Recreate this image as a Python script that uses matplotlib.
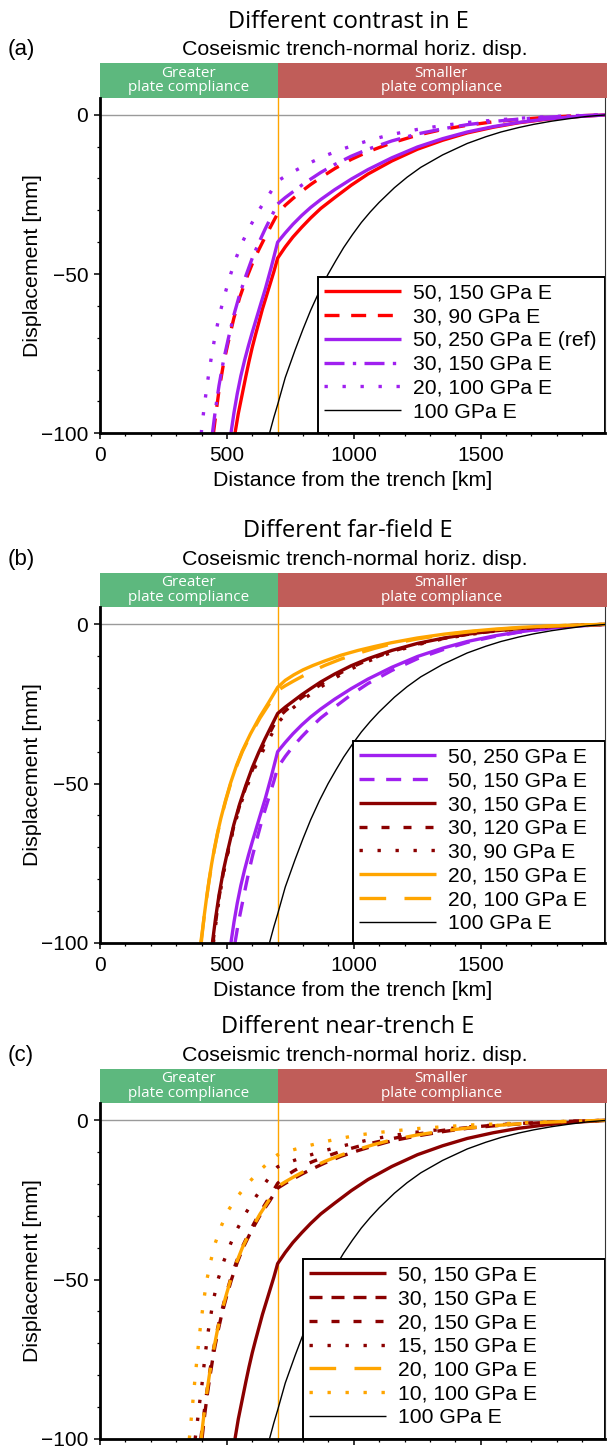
import matplotlib.pyplot as plt
from matplotlib.patches import Rectangle
from matplotlib.ticker import MultipleLocator

plt.rcParams["font.family"] = ["Liberation Sans", "DejaVu Sans"]

W, H = 607, 1449

# distance from the trench [km] and trench-normal displacement [mm] per model
dist_100 = [668, 685, 700, 730, 769, 800, 830, 865, 899, 930, 960, 995, 1030, 1065, 1100, 1160,
            1210, 1264, 1350, 1447, 1520, 1580, 1650, 1709, 1780, 1850, 1920, 2000]
disp_100 = [-100, -95, -91, -82.5, -73.8, -67.3, -61.4, -55.3, -50, -45.7, -41.7, -37.6, -33.8, -30.5, -27.5, -22.9,
            -19.6, -16.5, -12.6, -9.0, -6.9, -5.4, -4.0, -3.0, -2.0, -1.2, -0.5, 0]

dist_50_250 = [516, 528, 541, 555, 570, 585, 600, 630, 652, 675, 700, 730, 760, 795, 830, 870, 925, 990,
               1056, 1150, 1251, 1350, 1447, 1550, 1650, 1750, 1850, 2000]
disp_50_250 = [-100, -93.5, -87.5, -82, -77, -72.5, -68.3, -60.3, -54.5, -47.8, -40, -37.1, -34.4, -31.6, -29.1, -26.6, -23.5, -20.2,
               -17.2, -13.5, -10.1, -7.5, -5.4, -3.7, -2.4, -1.4, -0.7, 0]

dist_50_150 = [532, 545, 561, 575, 587, 600, 613, 640, 665, 685, 700, 730, 760, 795, 830, 870, 925, 990,
               1056, 1150, 1251, 1350, 1447, 1550, 1650, 1750, 1850, 2000]
disp_50_150 = [-100, -93.8, -87.5, -82, -77.5, -73, -69, -61, -54.5, -49.3, -45, -41.5, -38.4, -35.3, -32.4, -29.4, -26, -22.1,
               -18.6, -14.5, -10.8, -8.0, -5.7, -3.9, -2.5, -1.5, -0.7, 0]

dist_30_150 = [443, 455, 469, 487, 505, 527, 550, 575, 600, 625, 650, 680, 700, 730, 760, 795, 830, 870, 925, 990,
               1056, 1150, 1251, 1350, 1447, 1550, 1650, 1750, 1850, 2000]
disp_30_150 = [-100, -92.5, -85, -77, -70.5, -63, -56.5, -50.5, -45, -40.3, -36, -31.2, -28, -26, -24.2, -22.1, -20.2, -18.1, -15.6, -13,
               -10.8, -8.2, -6.0, -4.4, -3.1, -2.1, -1.35, -0.8, -0.4, 0]

dist_30_120 = [445, 457, 469, 487, 505, 527, 550, 575, 600, 625, 650, 680, 700, 730, 760, 795, 830, 870, 925, 990,
               1056, 1150, 1251, 1350, 1447, 1550, 1650, 1750, 1850, 2000]
disp_30_120 = [-100, -92.8, -85.8, -77.5, -71, -63.5, -57, -51, -45.8, -41.1, -37, -32.4, -29.5, -27.2, -25.2, -23, -21, -18.9, -16.2, -13.5,
               -11.2, -8.5, -6.2, -4.5, -3.2, -2.15, -1.4, -0.85, -0.4, 0]

dist_30_90 = [447, 458, 469, 487, 505, 527, 550, 575, 600, 625, 650, 680, 700, 730, 760, 795, 830, 870, 925, 990,
              1056, 1150, 1251, 1350, 1447, 1550, 1650, 1750, 1850, 2000]
disp_30_90 = [-100, -93, -86.5, -78, -71.5, -64, -57.5, -51.8, -46.8, -42.5, -38.5, -34, -31, -28.4, -26.3, -24, -21.9, -19.7, -16.9, -14,
              -11.6, -8.8, -6.4, -4.6, -3.3, -2.2, -1.45, -0.85, -0.4, 0]

dist_20_100 = [399, 405, 411, 420, 430, 440, 450, 463, 476, 495, 515, 538, 561, 593, 630, 665, 700, 730, 763, 800,
               840, 886, 950, 1017, 1080, 1147, 1250, 1356, 1450, 1550, 1650, 1750, 1850, 2000]
disp_20_100 = [-100, -95.5, -91.5, -86, -80.5, -75.5, -71, -65.8, -61.2, -55.5, -50, -44.6, -40, -34.8, -29.5, -25.2, -20.8, -19.3, -17.8, -16.2,
               -14.6, -12.9, -10.9, -9.1, -7.6, -6.2, -4.6, -3.3, -2.4, -1.7, -1.1, -0.65, -0.3, 0]

dist_20_150 = [397, 405, 411, 420, 430, 440, 450, 463, 476, 495, 515, 538, 561, 593, 630, 665, 700, 730, 763, 800,
               840, 886, 950, 1017, 1080, 1147, 1250, 1356, 1450, 1550, 1650, 1750, 1850, 2000]
disp_20_150 = [-100, -95.3, -91.3, -85.8, -80.2, -75.2, -70.7, -65.5, -61, -55.2, -49.7, -44.3, -39.7, -34.4, -29, -24.5, -19.8, -17.6, -15.9, -14.3,
               -12.9, -11.5, -9.7, -8.2, -7.0, -5.8, -4.3, -3.1, -2.25, -1.55, -1.0, -0.6, -0.3, 0]

dist_30_150c = [402, 408, 414, 423, 433, 443, 453, 466, 479, 498, 518, 541, 564, 596, 633, 668, 700, 730, 763, 800,
                840, 886, 950, 1017, 1080, 1147, 1250, 1356, 1450, 1550, 1650, 1750, 1850, 2000]
disp_30_150c = [-100, -95.5, -91.5, -86, -80.5, -75.5, -71, -65.8, -61.2, -55.5, -50, -44.6, -40, -34.8, -29.5, -25.4, -21.3, -19.8, -18.3, -16.7,
                -15.1, -13.4, -11.3, -9.5, -8.0, -6.5, -4.9, -3.5, -2.5, -1.75, -1.15, -0.7, -0.3, 0]

dist_15_150 = [375, 385, 393, 402, 409, 416, 425, 437, 448, 465, 489, 516, 539, 574, 611, 650, 688, 700, 750, 820,
               886, 958, 1056, 1150, 1250, 1400, 1550, 1700, 1850, 2000]
disp_15_150 = [-100, -93.8, -88.4, -82.8, -77.6, -72.6, -67, -61, -56, -50, -44, -38.5, -34.4, -29.2, -24.4, -19.8, -15.6, -14.6, -13, -11.1,
               -9.5, -8.0, -6.2, -4.8, -3.7, -2.4, -1.5, -0.8, -0.35, 0]

dist_10_100 = [352, 358, 364, 370, 377, 384, 391, 400, 409, 420, 437, 453, 479, 505, 545, 590, 640, 689, 700, 755,
               820, 892, 958, 1030, 1100, 1250, 1450, 1700, 1850, 2000]
disp_10_100 = [-100, -95, -90, -84.8, -79, -73.5, -68, -62, -56.5, -50.5, -44, -38.8, -33, -28.3, -23.6, -19.2, -15, -11.4, -10.8, -9.4,
               -8.0, -6.6, -5.5, -4.5, -3.8, -2.6, -1.5, -0.7, -0.3, 0]

BOUNDARY_KM = 700
XMAX = 1990
YTOP = 5.4

RED, PURPLE, DARKRED, ORANGE = "#ff0000", "#a020f0", "#8b0000", "#ffa500"
GREEN_BAR, RED_BAR = "#5db87e", "#c05d59"

DASHED = (0, (4.5, 3.5))
DASHED_C = (0, (3.9, 2.7))
DASHDOT = (0, (6, 2.5, 1, 2.5))
DOTTED = (0, (1, 4.4))
SHORTDASH = (0, (2.4, 4.2))
LONGDASH = (0, (8, 5.5))

panels = [
    dict(letter="(a)", title="Different contrast in E", zero=114.8, box=(318, 277), xlabels=True,
         curves=[("50, 150 GPa E", dist_50_150, disp_50_150, RED, "-"),
                 ("30, 90 GPa E", dist_30_90, disp_30_90, RED, DASHED),
                 ("50, 250 GPa E (ref)", dist_50_250, disp_50_250, PURPLE, "-"),
                 ("30, 150 GPa E", dist_30_150, disp_30_150, PURPLE, DASHDOT),
                 ("20, 100 GPa E", dist_20_100, disp_20_100, PURPLE, DOTTED),
                 ("100 GPa E", dist_100, disp_100, "black", "-")]),
    dict(letter="(b)", title="Different far-field E", zero=624.3, box=(353, 741), xlabels=True,
         curves=[("50, 250 GPa E", dist_50_250, disp_50_250, PURPLE, "-"),
                 ("50, 150 GPa E", dist_50_150, disp_50_150, PURPLE, DASHED),
                 ("30, 150 GPa E", dist_30_150, disp_30_150, DARKRED, "-"),
                 ("30, 120 GPa E", dist_30_120, disp_30_120, DARKRED, SHORTDASH),
                 ("30, 90 GPa E", dist_30_90, disp_30_90, DARKRED, DOTTED),
                 ("20, 150 GPa E", dist_20_150, disp_20_150, ORANGE, "-"),
                 ("20, 100 GPa E", dist_20_100, disp_20_100, ORANGE, LONGDASH),
                 ("100 GPa E", dist_100, disp_100, "black", "-")]),
    dict(letter="(c)", title="Different near-trench E", zero=1120.3, box=(303, 1259), xlabels=False,
         curves=[("50, 150 GPa E", dist_50_150, disp_50_150, DARKRED, "-"),
                 ("30, 150 GPa E", dist_30_150c, disp_30_150c, DARKRED, DASHED_C),
                 ("20, 150 GPa E", dist_20_150, disp_20_150, DARKRED, SHORTDASH),
                 ("15, 150 GPa E", dist_15_150, disp_15_150, DARKRED, DOTTED),
                 ("20, 100 GPa E", dist_20_100, disp_20_100, ORANGE, LONGDASH),
                 ("10, 100 GPa E", dist_10_100, disp_10_100, ORANGE, DOTTED),
                 ("100 GPa E", dist_100, disp_100, "black", "-")]),
]

fig = plt.figure(figsize=(W / 100, H / 100), dpi=100)
px_per_mm = 3.185
ax_left, ax_right = 100, 605

for p in panels:
    top = p["zero"] - YTOP * px_per_mm
    bottom = p["zero"] + 100 * px_per_mm
    hpx = bottom - top
    ax = fig.add_axes([ax_left / W, 1 - bottom / H, (ax_right - ax_left) / W, hpx / H])
    ax.set_xlim(0, XMAX)
    ax.set_ylim(-100, YTOP)

    ax.axhline(0, color="#9a9a9a", lw=1, zorder=1)
    ax.axvline(BOUNDARY_KM, color=ORANGE, lw=1, zorder=1.5)

    for label, x, y, color, ls in p["curves"]:
        lw = 1.0 if color == "black" else 2.4
        ax.plot(x, y, color=color, ls=ls, lw=lw, label=label,
                solid_capstyle="butt", dash_capstyle="butt", zorder=2)

    ax.spines["top"].set_visible(False)
    ax.spines["left"].set_linewidth(2)
    ax.spines["bottom"].set_linewidth(2)
    ax.spines["right"].set_linewidth(0.8)
    ax.spines["right"].set_color("#333333")

    ax.xaxis.set_major_locator(MultipleLocator(500))
    ax.xaxis.set_minor_locator(MultipleLocator(100))
    ax.yaxis.set_major_locator(MultipleLocator(50))
    ax.yaxis.set_minor_locator(MultipleLocator(10))
    ax.tick_params(which="major", direction="out", length=4.5, width=1.1, labelsize=15)
    ax.tick_params(which="minor", direction="out", length=2.5, width=0.9)
    ax.tick_params(axis="x", which="major", pad=5)
    ax.tick_params(axis="y", which="major", pad=4)
    ax.tick_params(right=False, top=False, which="both")

    if p["xlabels"]:
        ax.set_xlabel("Distance from the trench [km]", fontsize=15.4)
        ax.xaxis.set_label_coords(0.5, -38 / hpx)
    else:
        # the bottom panel is cut just below its axis in the reference
        ax.tick_params(axis="x", labelbottom=False)
    ax.set_ylabel("Displacement [mm]", fontsize=15.4)
    ax.yaxis.set_label_coords(-58 / (ax_right - ax_left), 0.5)

    # plate compliance bar above the axes
    bar_h = 34.4 / hpx
    trans = ax.get_xaxis_transform()
    ax.add_patch(Rectangle((0, 1), BOUNDARY_KM, bar_h, transform=trans,
                           color=GREEN_BAR, clip_on=False, lw=0))
    ax.add_patch(Rectangle((BOUNDARY_KM, 1), XMAX - BOUNDARY_KM + 10, bar_h, transform=trans,
                           color=RED_BAR, clip_on=False, lw=0))
    ax.text(BOUNDARY_KM / 2, 1 + bar_h / 2, "Greater\nplate compliance", transform=trans,
            ha="center", va="center", color="white", fontsize=11, family="Open Sans",
            linespacing=0.95)
    ax.text((BOUNDARY_KM + XMAX) / 2, 1 + bar_h / 2, "Smaller\nplate compliance", transform=trans,
            ha="center", va="center", color="white", fontsize=11, family="Open Sans",
            linespacing=0.95)

    # legend box touching bottom and right edges
    lx = (p["box"][0] - ax_left) / (ax_right - ax_left)
    ly = (bottom - p["box"][1]) / hpx
    ax.add_patch(Rectangle((lx, 0), 1 - lx, ly, transform=ax.transAxes,
                           facecolor="white", edgecolor="black", lw=1.4, zorder=5))
    leg = ax.legend(loc="upper left", bbox_to_anchor=(lx, ly), frameon=False,
                    fontsize=15.2, handlelength=3.65, handletextpad=0.55,
                    labelspacing=0.23, borderaxespad=0, borderpad=0.3)
    leg.set_zorder(6)

    fig.text(348 / W, 1 - (p["zero"] - 93) / H, p["title"], ha="center", va="center",
             fontsize=17, family="Open Sans")
    fig.text(355 / W, 1 - (p["zero"] - 65) / H, "Coseismic trench-normal horiz. disp.",
             ha="center", va="center", fontsize=15.4)
    fig.text(8 / W, 1 - (p["zero"] - 65) / H, p["letter"], ha="left", va="center",
             fontsize=16)

fig.savefig("out.png", dpi=100)
